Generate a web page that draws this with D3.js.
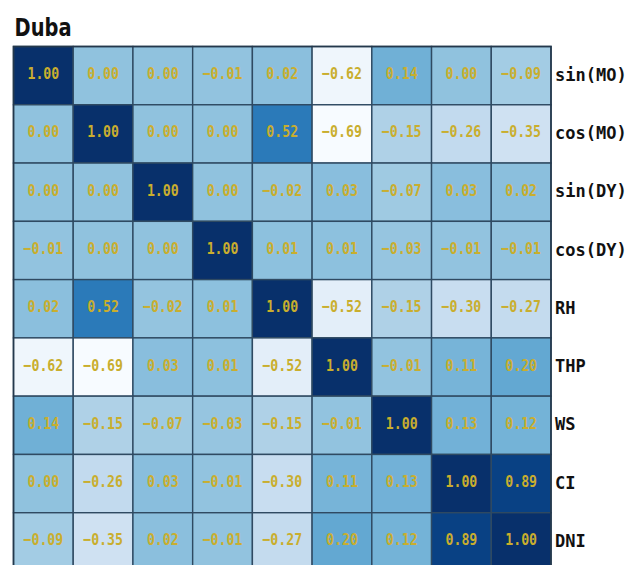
<!DOCTYPE html>
<html>
<head>
<meta charset="utf-8">
<script src="https://cdn.jsdelivr.net/npm/d3@7"></script>
<style>
  body { margin: 0; background: #fff; }
  svg { display: block; }
</style>
</head>
<body>
<div class="chart"></div>
<script>
const variables = ["sin(MO)", "cos(MO)", "sin(DY)", "cos(DY)", "RH", "THP", "WS", "CI", "DNI"];

// correlation rows, same order as variables
const rowSinMO = [1.00, 0.00, 0.00, -0.01, 0.02, -0.62, 0.14, 0.00, -0.09];
const rowCosMO = [0.00, 1.00, 0.00, 0.00, 0.52, -0.69, -0.15, -0.26, -0.35];
const rowSinDY = [0.00, 0.00, 1.00, 0.00, -0.02, 0.03, -0.07, 0.03, 0.02];
const rowCosDY = [-0.01, 0.00, 0.00, 1.00, 0.01, 0.01, -0.03, -0.01, -0.01];
const rowRH = [0.02, 0.52, -0.02, 0.01, 1.00, -0.52, -0.15, -0.30, -0.27];
const rowTHP = [-0.62, -0.69, 0.03, 0.01, -0.52, 1.00, -0.01, 0.11, 0.20];
const rowWS = [0.14, -0.15, -0.07, -0.03, -0.15, -0.01, 1.00, 0.13, 0.12];
const rowCI = [0.00, -0.26, 0.03, -0.01, -0.30, 0.11, 0.13, 1.00, 0.89];
const rowDNI = [-0.09, -0.35, 0.02, -0.01, -0.27, 0.20, 0.12, 0.89, 1.00];

const rows = [rowSinMO, rowCosMO, rowSinDY, rowCosDY, rowRH, rowTHP, rowWS, rowCI, rowDNI];

const w = 630;
const h = 565;
const gridLeft = 13.5;
const gridRight = 551;
const gridTop = 46.5;
const gridBottom = 571;

const cells = [];
rows.forEach((r, i) => {
  r.forEach((v, j) => {
    cells.push({ row: variables[i], col: variables[j], value: v });
  });
});

const xScale = d3.scaleBand().domain(variables).range([gridLeft, gridRight]);
const yScale = d3.scaleBand().domain(variables).range([gridTop, gridBottom]);
const color = d3.scaleSequential(d3.interpolateBlues)
  .domain(d3.extent(cells, (d) => d.value));

const svg = d3.select(".chart")
  .append("svg")
  .attr("width", w)
  .attr("height", h);

svg.append("text")
  .attr("x", 14.5)
  .attr("y", 36)
  .attr("font-family", "'DejaVu Sans', sans-serif")
  .attr("font-weight", "bold")
  .attr("font-size", 25)
  .attr("textLength", 57)
  .attr("lengthAdjust", "spacingAndGlyphs")
  .attr("fill", "#111")
  .text("Duba");

svg.selectAll("rect.cell")
  .data(cells)
  .enter()
  .append("rect")
  .attr("class", "cell")
  .attr("x", (d) => xScale(d.col))
  .attr("y", (d) => yScale(d.row))
  .attr("width", xScale.bandwidth())
  .attr("height", yScale.bandwidth())
  .attr("fill", (d) => color(d.value))
  .attr("stroke", "#2f4a62")
  .attr("stroke-width", 1.4);

svg.selectAll("text.val")
  .data(cells)
  .enter()
  .append("text")
  .attr("class", "val")
  .attr("transform", (d) =>
    "translate(" + (xScale(d.col) + xScale.bandwidth() / 2) + "," +
    (yScale(d.row) + yScale.bandwidth() / 2 - 2) + ") scale(0.8,1)")
  .attr("text-anchor", "middle")
  .attr("dominant-baseline", "central")
  .attr("font-family", "'DejaVu Sans Mono', monospace")
  .attr("font-weight", "bold")
  .attr("font-size", 16.5)
  .attr("fill", "#c9ae2e")
  .text((d) => d3.format(".2f")(d.value));

// outer frame
svg.append("rect")
  .attr("x", gridLeft)
  .attr("y", gridTop)
  .attr("width", gridRight - gridLeft)
  .attr("height", gridBottom - gridTop)
  .attr("fill", "none")
  .attr("stroke", "#24384c")
  .attr("stroke-width", 1.6);

const yAxis = d3.axisRight(yScale).tickSize(0).tickPadding(4);
const axisG = svg.append("g")
  .attr("transform", "translate(" + gridRight + ",0)")
  .call(yAxis);
axisG.select(".domain").remove();
axisG.selectAll("text")
  .attr("font-family", "'DejaVu Sans Mono', monospace")
  .attr("font-weight", "bold")
  .attr("font-size", 17)
  .attr("fill", "#111")
  .attr("dy", "0.3em");
</script>
</body>
</html>
